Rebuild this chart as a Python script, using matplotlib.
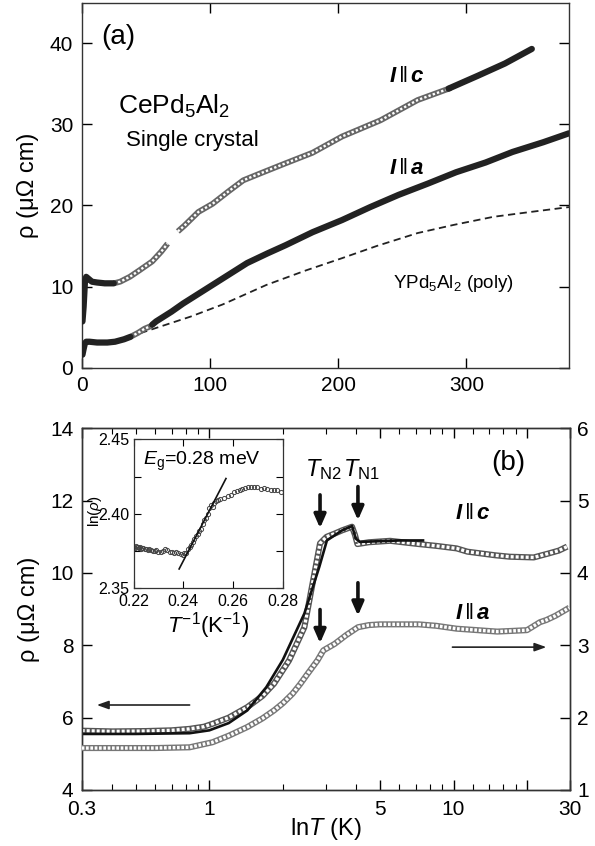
import matplotlib
matplotlib.use("Agg")
import matplotlib.pyplot as plt
import numpy as np
from matplotlib.ticker import FixedLocator, NullFormatter, FixedFormatter

plt.rcParams['font.family'] = ['Liberation Sans', 'DejaVu Sans']
plt.rcParams['mathtext.fontset'] = 'custom'
plt.rcParams['mathtext.rm'] = 'Liberation Sans'
plt.rcParams['mathtext.it'] = 'Liberation Sans:italic'
plt.rcParams['mathtext.bf'] = 'Liberation Sans:bold'
plt.rcParams['mathtext.bfit'] = 'Liberation Sans:bold:italic'

# ---------------- panel (a) data ----------------
c_low_T = [0.6, 1.5, 2.5, 3.5, 5, 8, 12, 18, 25]
c_low_rho = [5.7, 7.5, 10.5, 11.2, 11.0, 10.6, 10.5, 10.4, 10.4]
c_mid1_T = [25, 30, 37.5, 45, 55, 62, 67]
c_mid1_rho = [10.4, 10.6, 11.2, 12.0, 13.1, 14.3, 15.3]
c_mid2_T = [75, 80, 91, 102, 115, 126, 140, 159, 180, 203, 233, 262, 288]
c_mid2_rho = [16.8, 17.5, 19.2, 20.2, 21.8, 23.1, 24.0, 25.2, 26.5, 28.5, 30.5, 33.0, 34.5]
c_high_T = [286, 309, 330, 351]
c_high_rho = [34.4, 36.0, 37.5, 39.3]

a_low_T = [0.6, 1.5, 2.5, 3.5, 6, 12, 20, 26, 33, 38]
a_low_rho = [1.6, 2.3, 3.0, 3.2, 3.2, 3.1, 3.1, 3.2, 3.5, 3.8]
a_mid_T = [38, 44, 49, 55]
a_mid_rho = [3.8, 4.3, 4.8, 5.2]
a_high_T = [55, 58, 70, 79, 90, 100, 115, 129, 145, 159, 180, 203, 225, 247, 270, 292, 315, 336, 360, 380]
a_high_rho = [5.3, 5.7, 6.9, 7.9, 9.0, 10.0, 11.5, 12.9, 14.1, 15.1, 16.7, 18.2, 19.8, 21.3, 22.7, 24.1, 25.3, 26.6, 27.8, 28.9]

y_T = [37, 60, 85, 110, 144, 175, 203, 230, 262, 290, 321, 350, 380]
y_rho = [3.8, 5.0, 6.3, 7.8, 10.2, 12.0, 13.5, 15.0, 16.6, 17.6, 18.6, 19.2, 19.8]

# ---------------- panel (b) data ----------------
bc_T = [0.3, 0.4, 0.55, 0.7, 0.83, 0.95, 1.03, 1.2, 1.43, 1.65, 1.84, 2.12, 2.45, 2.67, 2.84, 3.02, 3.26, 3.5, 3.77, 3.84, 3.95, 4.04, 4.5, 5.5, 7.2, 8.5, 10.3, 11.4, 14.8, 17, 21.3, 24.5, 27, 29.2]
bc_rho = [5.64, 5.62, 5.63, 5.65, 5.69, 5.75, 5.83, 6.0, 6.29, 6.6, 6.94, 7.58, 8.5, 9.85, 10.82, 11.0, 11.09, 11.18, 11.26, 11.28, 11.05, 10.8, 10.85, 10.89, 10.8, 10.75, 10.68, 10.59, 10.49, 10.45, 10.43, 10.54, 10.62, 10.73]

bl_T = [0.3, 0.5, 0.83, 1.0, 1.2, 1.43, 1.71, 2.0, 2.45, 2.82, 3.03, 3.5, 3.84, 3.98, 4.13, 5.0, 6.0, 7.5]
bl_rho = [5.55, 5.55, 5.57, 5.65, 5.85, 6.2, 6.84, 7.6, 8.88, 10.17, 10.9, 11.18, 11.3, 10.95, 10.86, 10.88, 10.9, 10.9]

ba_T = [0.3, 0.45, 0.6, 0.83, 1.03, 1.2, 1.43, 1.65, 1.84, 2.0, 2.19, 2.35, 2.53, 2.77, 2.93, 3.26, 3.63, 4.06, 4.5, 5.0, 6.0, 7.2, 8.5, 10.3, 12.5, 15.1, 17.5, 20, 22.6, 24, 26.2, 29.8]
ba_r = [1.58, 1.58, 1.58, 1.59, 1.66, 1.75, 1.87, 1.99, 2.1, 2.2, 2.33, 2.46, 2.61, 2.79, 2.93, 3.02, 3.14, 3.25, 3.28, 3.29, 3.29, 3.29, 3.27, 3.23, 3.21, 3.19, 3.2, 3.21, 3.32, 3.35, 3.41, 3.52]

# inset data
in_x = [0.2202, 0.2206, 0.2209, 0.2213, 0.2217, 0.2221, 0.2225, 0.2229, 0.2234, 0.2240, 0.2245, 0.2252,
        0.2258, 0.2264, 0.2270, 0.2278, 0.2285, 0.2292, 0.2300, 0.2310, 0.2318, 0.2326, 0.2336, 0.2345,
        0.2355, 0.2363, 0.2372, 0.2380, 0.2390, 0.2397, 0.2404, 0.2410, 0.2418, 0.2425, 0.2430, 0.2437,
        0.2444, 0.2450, 0.2457, 0.2464, 0.2471, 0.2478, 0.2484, 0.2491, 0.2498, 0.2504, 0.2510, 0.2517,
        0.2524, 0.2531, 0.2537, 0.2548, 0.2564, 0.2578, 0.2590, 0.2604, 0.2615, 0.2627, 0.2637, 0.2648,
        0.2660, 0.2671, 0.2683, 0.2695, 0.2711, 0.2722, 0.2735, 0.2750, 0.2762, 0.2775, 0.2790]
in_y = [2.3780, 2.3772, 2.3785, 2.3776, 2.3781, 2.3770, 2.3777, 2.3768, 2.3774, 2.3770, 2.3765, 2.3766,
        2.3760, 2.3763, 2.3757, 2.3752, 2.3750, 2.3755, 2.3748, 2.3746, 2.3754, 2.3762, 2.3758, 2.3748,
        2.3742, 2.3739, 2.3745, 2.3735, 2.3730, 2.3724, 2.3738, 2.3735, 2.3762, 2.3778, 2.3790, 2.3812,
        2.3835, 2.3850, 2.3869, 2.3885, 2.3902, 2.3930, 2.3959, 2.3975, 2.4000, 2.4040, 2.4059, 2.4050,
        2.4075, 2.4085, 2.4093, 2.4098, 2.4104, 2.4120, 2.4130, 2.4149, 2.4155, 2.4162, 2.4171, 2.4176,
        2.4180, 2.4182, 2.4178, 2.4183, 2.4171, 2.4176, 2.4168, 2.4164, 2.4158, 2.4160, 2.4149]
fit_x = [0.2383, 0.2571]
fit_y = [2.3631, 2.4238]

TICK = 15

fig = plt.figure(figsize=(5.95, 8.46), dpi=100)


def chain(ax, x, y, color='#555555', lwo=4.2, lwi=1.7, dash=(1.0, 0.9), z=3):
    ax.plot(x, y, color=color, lw=lwo, solid_capstyle='butt', zorder=z)
    ax.plot(x, y, color='white', lw=lwi, linestyle=(0, dash), zorder=z + 0.1)


# ================= panel (a) =================
ax1 = fig.add_axes([0.1373, 0.5654, 0.819, 0.4314])

ax1.plot(c_low_T, c_low_rho, color='#222222', lw=4.5, solid_capstyle='round', zorder=5)
chain(ax1, c_mid1_T, c_mid1_rho, color='#666666')
chain(ax1, c_mid2_T, c_mid2_rho, color='#666666')
ax1.plot(c_high_T, c_high_rho, color='#222222', lw=4.5, solid_capstyle='round', zorder=5)

ax1.plot(a_low_T, a_low_rho, color='#222222', lw=4.5, solid_capstyle='round', zorder=5)
chain(ax1, a_mid_T, a_mid_rho, color='#666666')
ax1.plot(a_high_T, a_high_rho, color='#222222', lw=4.5, solid_capstyle='round', zorder=5)

ax1.plot(y_T, y_rho, color='#222222', lw=1.3, linestyle=(0, (4, 2.5)), zorder=2)

ax1.set_xlim(0, 380)
ax1.set_ylim(0, 45)
ax1.set_xticks([0, 100, 200, 300])
ax1.set_yticks([0, 10, 20, 30, 40])
ax1.tick_params(direction='in', length=7, width=1, top=True, right=True, labelsize=TICK, pad=6)
ax1.set_ylabel('ρ (μΩ cm)', fontsize=17, labelpad=8)
for s in ax1.spines.values():
    s.set_linewidth(1.0)
    s.set_color('#333333')

ax1.text(15, 40.8, '(a)', fontsize=20, va='center', ha='left')
ax1.text(28.7, 32.2, r'CePd$_5$Al$_2$', fontsize=19, va='center', ha='left')
ax1.text(34.6, 28.0, 'Single crystal', fontsize=16, va='center', ha='left')
ax1.text(240, 35.9, r'$\mathbfit{I}\,\|\,\mathbfit{c}$', fontsize=16, va='center', ha='left')
ax1.text(240, 24.6, r'$\mathbfit{I}\,\|\,\mathbfit{a}$', fontsize=16, va='center', ha='left')
ax1.text(243, 10.4, r'YPd$_5$Al$_2$ (poly)', fontsize=13.5, va='center', ha='left')

# ================= panel (b) =================
ax2 = fig.add_axes([0.1373, 0.0662, 0.8207, 0.4275])
ax2.set_xscale('log')
ax2.set_xlim(0.3, 30)
ax2.set_ylim(4, 14)
ax2.plot(bl_T, bl_rho, color='#111111', lw=1.9, zorder=6)
chain(ax2, bc_T, bc_rho, color='#555555', lwo=4.4, lwi=2.4, dash=(0.9, 0.6), z=3)

axr = ax2.twinx()
axr.set_xlim(0.3, 30)
axr.set_ylim(1, 6)
chain(axr, ba_T, ba_r, color='#777777', lwo=4.4, lwi=2.4, dash=(0.8, 0.5), z=3)

ax2.xaxis.set_major_locator(FixedLocator([0.3, 1, 5, 10, 20, 30]))
ax2.xaxis.set_major_formatter(FixedFormatter(['0.3', '1', '5', '10', '', '30']))
ax2.xaxis.set_minor_locator(FixedLocator([0.4, 0.5, 0.6, 0.7, 0.8, 0.9, 2, 3, 4, 6, 7, 8, 9, 12, 14, 16, 18]))
ax2.xaxis.set_minor_formatter(NullFormatter())
ax2.set_yticks([4, 6, 8, 10, 12, 14])
axr.set_yticks([1, 2, 3, 4, 5, 6])
ax2.tick_params(which='major', direction='in', length=7, width=1, top=True, right=False, labelsize=TICK, pad=7)
ax2.tick_params(which='minor', direction='in', length=4, width=0.8, top=True)
ax2.tick_params(axis='y', pad=6)
axr.tick_params(direction='in', length=7, width=1, labelsize=TICK, pad=5)
ax2.set_ylabel('ρ (μΩ cm)', fontsize=17, labelpad=7)
ax2.set_xlabel(r'ln$T$ (K)', fontsize=17, labelpad=-2)
for a in (ax2, axr):
    for s in a.spines.values():
        s.set_linewidth(1.0)
        s.set_color('#333333')

arrow_kw = dict(arrowstyle='-|>,head_width=0.35,head_length=0.8', lw=2.6, color='#111111', shrinkA=0, shrinkB=0)
ax2.annotate('', xy=(2.84, 11.24), xytext=(2.84, 12.16), arrowprops=arrow_kw)
ax2.annotate('', xy=(4.06, 11.46), xytext=(4.06, 12.39), arrowprops=arrow_kw)
ax2.annotate('', xy=(2.84, 8.06), xytext=(2.84, 8.99), arrowprops=arrow_kw)
ax2.annotate('', xy=(4.06, 8.82), xytext=(4.06, 9.73), arrowprops=arrow_kw)

harrow = dict(arrowstyle='-|>,head_width=0.25,head_length=0.7', lw=1.2, color='#222222', shrinkA=0, shrinkB=0)
ax2.annotate('', xy=(0.346, 6.35), xytext=(0.83, 6.35), arrowprops=harrow)
ax2.annotate('', xy=(24.0, 7.95), xytext=(9.9, 7.95), arrowprops=harrow)

ax2.text(2.93, 12.85, r'$T_{\mathrm{N2}}$', fontsize=17, ha='center', va='center')
ax2.text(4.2, 12.85, r'$T_{\mathrm{N1}}$', fontsize=17, ha='center', va='center')
ax2.text(16.8, 13.04, '(b)', fontsize=20, ha='center', va='center')
ax2.text(10.1, 11.65, r'$\mathbfit{I}\,\|\,\mathbfit{c}$', fontsize=16, va='center', ha='left')
ax2.text(10.1, 8.88, r'$\mathbfit{I}\,\|\,\mathbfit{a}$', fontsize=16, va='center', ha='left')

# ================= inset =================
axin = fig.add_axes([0.2244, 0.3044, 0.2513, 0.1761])
axin.plot(in_x, in_y, linestyle='none', marker='o', ms=3, mfc='none', mec='#444444', mew=0.7)
axin.plot(fit_x, fit_y, color='#111111', lw=1.2)
axin.set_xlim(0.22, 0.28)
axin.set_ylim(2.35, 2.45)
axin.set_xticks([0.22, 0.24, 0.26, 0.28])
axin.set_xticklabels(['0.22', '0.24', '0.26', '0.28'])
axin.set_yticks([2.35, 2.40, 2.45])
axin.set_yticklabels(['2.35', '2.40', '2.45'])
axin.yaxis.set_minor_locator(FixedLocator([2.375, 2.425]))
axin.tick_params(which='major', direction='in', length=5, width=0.8, top=True, right=True, labelsize=11.5, pad=3)
axin.tick_params(axis='x', pad=4)
axin.tick_params(which='minor', direction='in', length=5, width=0.8, right=True)
for s in axin.spines.values():
    s.set_linewidth(0.9)
    s.set_color('#333333')
axin.set_ylabel(r'ln($\rho$)', fontsize=11)
axin.yaxis.set_label_coords(-0.2, 0.52)
axin.set_xlabel(r'$T^{-1}$(K$^{-1}$)', fontsize=16, labelpad=1)
axin.text(0.2238, 2.4356, r'$E_{\mathrm{g}}$=0.28 meV', fontsize=14, va='center', ha='left')

fig.savefig('out.png', dpi=100)
